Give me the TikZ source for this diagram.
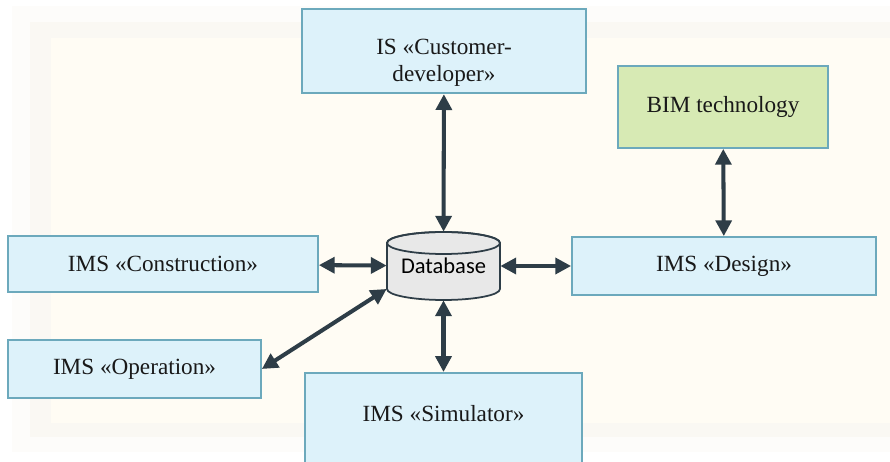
\documentclass[tikz,border=0pt]{standalone}
\usepackage{fontspec}
\setmainfont{Liberation Serif}
\newfontfamily\dbfont{Carlito}
\usepackage{xcolor}
\usetikzlibrary{arrows.meta,positioning,calc}

\definecolor{boxfill}{HTML}{DDF2FA}
\definecolor{boxline}{HTML}{6CA9BC}
\definecolor{bimfill}{HTML}{D7EAB4}
\definecolor{arrowcol}{HTML}{2E3D47}
\definecolor{panel}{HTML}{FFFCF4}
\definecolor{shadowA}{HTML}{FDFCFA}
\definecolor{shadowB}{HTML}{FAF8F3}
\definecolor{dbfill}{HTML}{E8E8E8}

\begin{document}
\begin{tikzpicture}[
    x=0.02cm, y=-0.02cm,
    system/.style={rectangle, draw=boxline, fill=boxfill, line width=1pt, text centered, align=center, font=\fontsize{13.2}{15.5}\selectfont, text=black!90},
    bim/.style={system, fill=bimfill},
    link/.style={{Triangle[length=9pt,width=9pt]}-{Triangle[length=9pt,width=9pt]}, line width=2.3pt, draw=arrowcol}
]
    % Background panel
    \useasboundingbox (0,0) rectangle (890,462);
    \fill[white] (0,0) rectangle (890,462);
    \fill[shadowA] (12,6) rectangle (900,452);
    \fill[shadowB] (30,22) rectangle (900,437);
    \fill[panel] (51,38) rectangle (900,423);

    % Systems
    \node[system, minimum width=5.68cm, minimum height=1.62cm, text height=38pt, text depth=3.5pt] (customer) at (444,51) {IS «Customer-\\developer»};
    \node[bim, minimum width=4.2cm, minimum height=1.64cm] (bim) at (723,107) {BIM technology};
    \node[system, minimum width=6.2cm, minimum height=1.12cm] (construction) at (163,264) {IMS «Construction»};
    \node[system, minimum width=6.08cm, minimum height=1.16cm] (design) at (724,266) {IMS «Design»};
    \node[system, minimum width=5.06cm, minimum height=1.16cm] (operation) at (134.5,369) {IMS «Operation»};
    \node[system, minimum width=5.54cm, minimum height=2cm, text height=10pt, text depth=11pt, anchor=north] (simulator) at (443.5,372) {IMS «Simulator»};

    % Database
    \draw[fill=dbfill, draw=arrowcol, line width=1pt]
        (387,243) -- (387,289) arc[start angle=180, end angle=360, x radius=56.5, y radius=-11]
        -- (500,243) arc[start angle=0, end angle=180, x radius=56.5, y radius=-11] -- cycle;
    \draw[draw=arrowcol, line width=1pt] (443.5,243) ellipse[x radius=56.5, y radius=11];
    \node[minimum width=2.26cm, minimum height=1.36cm, inner sep=0pt, font=\dbfont\fontsize{12.8}{14}\selectfont] (db) at (443.5,266) {\raisebox{-1pt}{Database}};

    % Arrows
    \draw[link] (customer) -- (db);
    \draw[link] (db) -- (simulator);
    \draw[link] (construction) -- (db);
    \draw[link] (db) -- (design);
    \draw[link] (bim) -- (design);
    \draw[link] (operation.east) -- (db.202);
\end{tikzpicture}
\end{document}
